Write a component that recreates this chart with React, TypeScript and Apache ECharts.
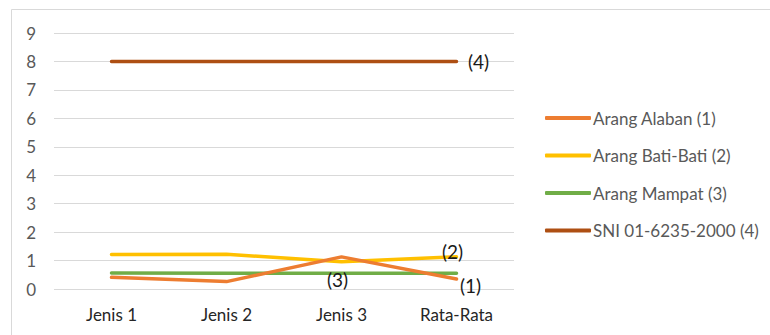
import React, { useEffect, useRef } from "react";
import * as echarts from "echarts";

const categories = ["Jenis 1", "Jenis 2", "Jenis 3", "Rata-Rata"];
const alaban = [0.41, 0.26, 1.13, 0.35];
const batiBati = [1.21, 1.22, 0.96, 1.13];
const mampat = [0.56, 0.55, 0.55, 0.55];
const sni = [8, 8, 8, 8];

const seriesNames = [
  "Arang Alaban (1)",
  "Arang Bati-Bati (2)",
  "Arang Mampat (3)",
  "SNI 01-6235-2000 (4)",
];
const colors = ["#ED7D31", "#FFC000", "#70AD47", "#AE4F13"];

const FONT = "Lato";

// tag one point of a series with its number label
function tagged(values: number[], index: number, text: string, offset: number[]) {
  return values.map((v, i) =>
    i === index
      ? {
          value: v,
          label: {
            show: true,
            position: "inside",
            offset,
            formatter: text,
            fontFamily: FONT,
            fontSize: 19,
            color: "#1a1a1a",
          },
        }
      : v
  );
}

export default function App() {
  const ref = useRef<HTMLDivElement>(null);

  useEffect(() => {
    document.body.style.margin = "0";
    const chart = echarts.init(ref.current!, null, { renderer: "svg" });
    const line = (name: string, color: string, data: any[], z: number) => ({
      name,
      type: "line",
      data,
      z,
      symbol: "circle",
      symbolSize: 0.1,
      itemStyle: { color },
      lineStyle: { color, width: 3.5, cap: "round" },
      emphasis: { disabled: true },
    });
    chart.setOption({
      animation: false,
      graphic: [
        {
          type: "rect",
          shape: { x: 11.5, y: 9.5, width: 800, height: 400 },
          style: { fill: "none", stroke: "#d9d9d9", lineWidth: 1 },
          silent: true,
        },
      ],
      grid: { left: 54, right: 256, top: 33, bottom: 46 },
      xAxis: {
        type: "category",
        data: categories,
        boundaryGap: true,
        axisLine: { show: false },
        axisTick: { show: false },
        axisLabel: {
          fontFamily: FONT,
          fontSize: 17,
          color: "#262626",
          margin: 17,
        },
      },
      yAxis: {
        type: "value",
        min: 0,
        max: 9,
        interval: 1,
        axisLine: { show: false },
        axisTick: { show: false },
        splitLine: { lineStyle: { color: "#d9d9d9", width: 1 } },
        axisLabel: {
          fontFamily: FONT,
          fontSize: 17,
          color: "#595959",
          margin: 18,
        },
      },
      legend: {
        orient: "vertical",
        left: 540,
        top: 104,
        itemWidth: 46,
        itemHeight: 4,
        itemGap: 19.5,
        icon: "roundRect",
        data: seriesNames,
        textStyle: {
          fontFamily: FONT,
          fontSize: 17,
          color: "#595959",
          padding: [0, 0, 0, -3],
          lineHeight: 18,
        },
      },
      series: [
        line(seriesNames[0], colors[0], tagged(alaban, 3, "(1)", [14, 6]), 4),
        line(seriesNames[1], colors[1], tagged(batiBati, 3, "(2)", [-4, -5]), 3),
        line(seriesNames[2], colors[2], tagged(mampat, 2, "(3)", [-4, 6]), 2),
        line(seriesNames[3], colors[3], tagged(sni, 3, "(4)", [22, 0]), 1),
      ],
    });
    return () => chart.dispose();
  }, []);

  return <div ref={ref} style={{ width: 770, height: 335 }} />;
}
